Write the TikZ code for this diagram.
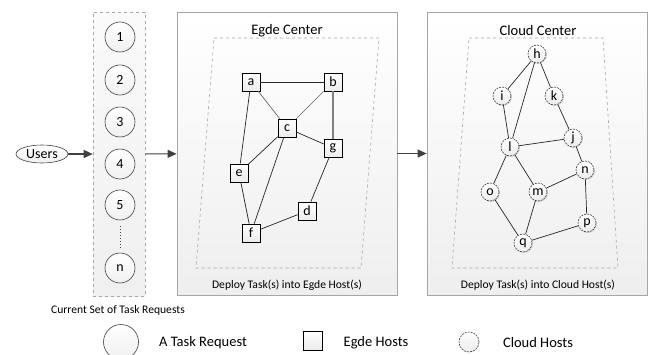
\documentclass[tikz,border=0pt]{standalone}
\usepackage{fontspec}
\setmainfont{Carlito}
\usetikzlibrary{arrows.meta,shadows,shapes.geometric}
\definecolor{boxline}{HTML}{A6A6A6}
\definecolor{arrowc}{HTML}{404040}
\tikzset{
  bigbox/.style={draw=boxline, line width=0.8pt, top color=white, bottom color=gray!13, minimum width=220pt, minimum height=283pt, inner sep=0pt},
  colbox/.style={draw=boxline, dashed, line width=0.6pt, top color=gray!4, bottom color=gray!12, minimum width=52pt, minimum height=284pt, inner sep=0pt},
  task/.style={circle, draw=arrowc, line width=0.6pt, top color=white, bottom color=gray!12, minimum size=30pt, inner sep=0pt, font=\fontsize{14}{16}\selectfont},
  ehost/.style={rectangle, draw=black, line width=0.7pt, top color=white, bottom color=gray!15, minimum size=18pt, inner sep=0pt, font=\fontsize{14}{16}\selectfont, drop shadow={opacity=0.3, shadow xshift=0.9pt, shadow yshift=-0.9pt}},
  chost/.style={circle, draw=arrowc, dashed, dash pattern=on 2pt off 1pt, line width=0.6pt, top color=white, bottom color=gray!15, minimum size=18pt, inner sep=0pt, font=\fontsize{14}{16}\selectfont, drop shadow={opacity=0.3, shadow xshift=0.9pt, shadow yshift=-0.9pt}},
  link/.style={line width=0.7pt, draw=black!85},
  flow/.style={line width=1.1pt, draw=arrowc, -{Triangle[length=9pt,width=8pt]}},
  zone/.style={draw=gray!70, dashed, line width=0.6pt},
  title/.style={font=\fontsize{14.5}{17}\selectfont},
  small/.style={font=\fontsize{11.6}{14}\selectfont},
  legtext/.style={font=\fontsize{14.5}{17}\selectfont}
}
\begin{document}
\begin{tikzpicture}[x=1pt, y=-1pt]
\path[use as bounding box] (0,0) rectangle (653,354);

% Users
\node[ellipse, draw=arrowc, line width=0.6pt, top color=white, bottom color=gray!12, minimum width=52pt, minimum height=18pt, inner sep=0pt, font=\fontsize{14}{16}\selectfont] (users) at (42,154) {Users};

% task column
\node[colbox] (col) at (119,154) {};
\node[task] (t1) at (120,37) {1};
\node[task] (t2) at (120,80) {2};
\node[task] (t3) at (120,122) {3};
\node[task] (t4) at (120,164) {4};
\node[task] (t5) at (120,205) {5};
\node[task] (tn) at (120,268) {n};
\draw[line width=1pt, dotted, arrowc] ([yshift=-6pt]t5.south) -- ([yshift=3pt]tn.north);

% big boxes
\node[bigbox] (ebox) at (287,153.5) {};
\node[bigbox] (cbox) at (537,153.5) {};
\node[title] (etitle) at (287,31) {Egde Center};
\node[title] (ctitle) at (538,31) {Cloud Center};
\draw[zone] (214,38) -- (379,38) -- (361,268) -- (196,268) -- cycle;
\draw[zone] (469,38) -- (603,38) -- (618,268) -- (452,268) -- cycle;
\node[small] (elabel) at (287,285) {Deploy Task(s) into Egde Host(s)};
\node[small] (clabel) at (538,285) {Deploy Task(s) into Cloud Host(s)};

% arrows
\draw[flow] (users) -- (col);
\draw[flow] (col) -- (ebox);
\draw[flow] (ebox) -- (cbox);

% edge hosts
\node[ehost] (a) at (251,82) {a};
\node[ehost] (b) at (333,82) {b};
\node[ehost] (c) at (287,128) {c};
\node[ehost] (g) at (333,148) {g};
\node[ehost] (e) at (239,173) {e};
\node[ehost] (d) at (307,211) {d};
\node[ehost] (f) at (251,233) {f};
\draw[link] (a) -- (b);
\draw[link, draw=gray!80!black] (a) -- (c);
\draw[link] (a) -- (e);
\draw[link, draw=gray!80!black] (b) -- (c);
\draw[line width=1.3pt, draw=gray] (b) -- (g);
\draw[link] (c) -- (g);
\draw[link] (c) -- (e);
\draw[link] (c) -- (f);
\draw[link] (e) -- (f);
\draw[link] (g) -- (d);
\draw[link] (d) -- (f);

% cloud hosts
\node[chost] (h) at (537,54) {h};
\node[chost] (i) at (502,96) {i};
\node[chost] (k) at (554,96) {k};
\node[chost] (j) at (573,138) {j};
\node[chost] (l) at (510,147) {l};
\node[chost] (n) at (585,170) {n};
\node[chost] (o) at (490,192) {o};
\node[chost] (m) at (538,192) {m};
\node[chost] (p) at (587,223) {p};
\node[chost] (q) at (523,243) {q};
\draw[link] (h) -- (i);
\draw[link] (h) -- (l);
\draw[link] (h) -- (k);
\draw[link] (i) -- (l);
\draw[link] (k) -- (j);
\draw[link] (l) -- (j);
\draw[link] (j) -- (n);
\draw[link] (l) -- (o);
\draw[link] (l) -- (m);
\draw[link] (m) -- (n);
\draw[link] (o) -- (q);
\draw[link] (m) -- (q);
\draw[link] (n) -- (p);
\draw[link] (p) -- (q);

% legend
\node[small] (leg0) at (118,310) {Current Set of Task Requests};
\node[circle, draw=arrowc, line width=0.6pt, top color=white, bottom color=gray!12, minimum size=35pt, inner sep=0pt] (lc) at (121,342) {};
\node[legtext] (lct) at (203,343) {A Task Request};
\node[rectangle, draw=black, line width=0.7pt, top color=white, bottom color=gray!15, minimum size=19pt, inner sep=0pt] (ls) at (313,341) {};
\node[legtext] (lst) at (376,343) {Egde Hosts};
\node[circle, draw=arrowc, dashed, dash pattern=on 2pt off 1pt, line width=0.6pt, top color=white, bottom color=gray!15, minimum size=20pt, inner sep=0pt] (lh) at (469,342) {};
\node[legtext] (lht) at (538,343) {Cloud Hosts};
\end{tikzpicture}
\end{document}
